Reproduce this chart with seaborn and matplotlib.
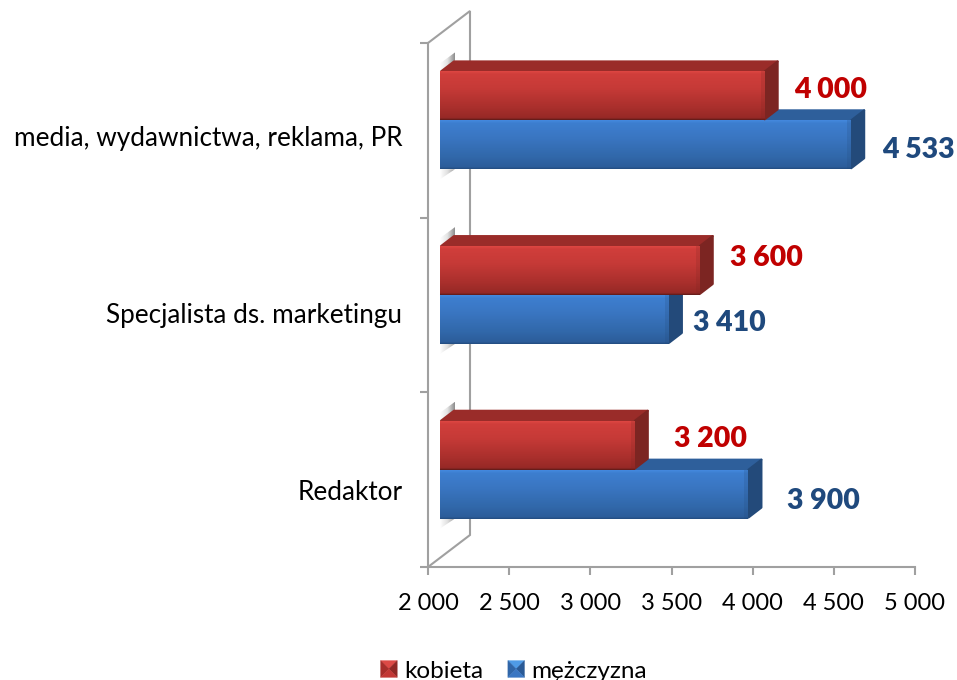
import numpy as np
import pandas as pd
import matplotlib
matplotlib.use('Agg')
import matplotlib.pyplot as plt
import seaborn as sns
from matplotlib.colors import LinearSegmentedColormap
from matplotlib.legend_handler import HandlerBase
from matplotlib.patches import Patch, Polygon
from matplotlib.transforms import Affine2D, IdentityTransform

categories = ['media, wydawnictwa, reklama, PR', 'Specjalista ds. marketingu', 'Redaktor']
kobieta = [4000, 3600, 3200]
mezczyzna = [4533, 3410, 3900]
series_names = ['kobieta', 'mężczyzna']
x_ticks = [2000, 2500, 3000, 3500, 4000, 4500, 5000]
x_labels = ['2 000', '2 500', '3 000', '3 500', '4 000', '4 500', '5 000']

# layout, in pixels
DX, DY = 12, 10        # front face offset from the axes plane
BX, BY = 14, 11        # bar depth
WX, WY = 42, 32        # wall depth
label_shift = {'kobieta': [(66, 6), (67, 13), (76, 6)],
               'mężczyzna': [(67, -5), (60, -4), (75, -7)]}
cat_label_shift = [-6, -8, -10]

colors = {
    'kobieta': dict(grad=[(0, '#de4642'), (0.06, '#d03e3b'), (0.35, '#c63a37'), (0.75, '#a92f2c'),
                          (0.96, '#962926'), (1, '#5e1a18')],
                    flat=['#dc4a46', '#a82e2b', '#8f2825', '#c23835'],
                    top='#9a2c29', side='#7c2522', text='#c00000'),
    'mężczyzna': dict(grad=[(0, '#4489de'), (0.06, '#3d7ecf'), (0.35, '#3a76c2'), (0.75, '#3168aa'),
                            (0.96, '#2c5d9a'), (1, '#234d80')],
                      flat=['#4f9be6', '#3066a8', '#2a5a96', '#3a76c2'],
                      top='#2e5f9b', side='#234a7a', text='#1f497d'),
}
GREY = '#a0a0a0'

df = pd.DataFrame({'stanowisko': categories * 2,
                   'plec': [series_names[0]] * 3 + [series_names[1]] * 3,
                   'placa': kobieta + mezczyzna})

sns.set_theme(style='white')
plt.rcParams['font.family'] = ['Lato', 'DejaVu Sans']

fig = plt.figure(figsize=(9.57, 6.8), dpi=100)
ax = fig.add_axes([428 / 957, (680 - 567) / 680, 487 / 957, 524 / 680])
sns.barplot(data=df, y='stanowisko', x='placa', hue='plec', order=categories,
            hue_order=series_names, width=0.56, gap=0, dodge=True, legend=False,
            errorbar=None, ax=ax)
ax.set_xlim(2000, 5000)
ax.set_ylim(2.5, -0.5)
ax.set_autoscale_on(False)
ax.set_xlabel('')
ax.set_ylabel('')

for s in ['top', 'right']:
    ax.spines[s].set_visible(False)
for s in ['left', 'bottom']:
    ax.spines[s].set_color(GREY)
    ax.spines[s].set_linewidth(1.5)

ax.set_xticks(x_ticks, x_labels)
ax.tick_params(axis='x', length=6, width=1.5, color=GREY, bottom=True, pad=13,
               labelsize=17, labelcolor='black')
ax.set_yticks([-0.5, 0.5, 1.5, 2.5], ['', '', '', ''])
ax.tick_params(axis='y', which='major', length=6, width=1.5, color=GREY, left=True)
ax.set_yticks([0, 1, 2], categories, minor=True)
ax.tick_params(axis='y', which='minor', length=0, pad=18.5, labelsize=18.8, labelcolor='black')
for t, dy in zip(ax.get_yticklabels(minor=True), cat_label_shift):
    t.set_transform(t.get_transform() + Affine2D().translate(0, dy))

# back wall
x0, y0 = ax.transData.transform((2000, 2.5))
x1, y1 = ax.transData.transform((2000, -0.5))
ax.add_patch(Polygon([(x0, y1), (x0 + WX, y1 + WY), (x0 + WX, y0 + WY), (x0, y0)],
                     closed=False, fill=False, edgecolor=GREY, lw=1.5,
                     transform=IdentityTransform(), clip_on=False, zorder=0.5))


def gradient(cols, extent, z, clip, vertical=True):
    cmap = LinearSegmentedColormap.from_list('g', cols)
    ramp = np.linspace(0, 1, 128)
    arr = ramp.reshape(-1, 1) if vertical else ramp.reshape(1, -1)
    im = ax.imshow(arr, cmap=cmap, aspect='auto', extent=extent, origin='upper',
                   transform=IdentityTransform(), zorder=z)
    im.set_clip_path(clip)
    return im


def poly(pts, color, z):
    p = Polygon(pts, closed=True, facecolor=color, edgecolor=color, lw=1.5, joinstyle='round',
                transform=IdentityTransform(), clip_on=False, zorder=z)
    ax.add_patch(p)
    return p


# bars are drawn lower one first so the red front covers the blue top
z = 2.0
for name, container, values in [(series_names[1], ax.containers[1], mezczyzna),
                                (series_names[0], ax.containers[0], kobieta)]:
    c = colors[name]
    for k, bar in enumerate(container):
        value = values[k]
        ya, yb = bar.get_y(), bar.get_y() + bar.get_height()
        left, y_low = ax.transData.transform((2000, yb)) + (DX, DY)
        right, y_high = ax.transData.transform((value, ya)) + (DX, DY)

        bar.set_visible(False)
        poly([(left + 1, y_high), (left + BX, y_high + BY - 1), (right + BX - 1, y_high + BY - 1),
              (right, y_high)], c['top'], z)
        poly([(right, y_low + 1), (right + BX - 1, y_low + BY), (right + BX - 1, y_high + BY - 1),
              (right, y_high)], c['side'], z + 0.01)
        front = Polygon([(left, y_low), (left, y_high), (right, y_high), (right, y_low)],
                        transform=IdentityTransform(), facecolor='none', edgecolor='none')
        ax.add_patch(front)
        gradient(c['grad'], (left, right, y_low, y_high), z + 0.02, front)

        # soft shading where the bar meets the side
        bev = Polygon([(right - 4, y_low), (right - 4, y_high), (right, y_high), (right, y_low)],
                      transform=IdentityTransform(), facecolor=c['side'], alpha=0.2,
                      edgecolor='none', zorder=z + 0.03, clip_on=False)
        ax.add_patch(bev)
        z += 0.1

        sx, sy = label_shift[name][k]
        ax.annotate(f'{value:,}'.replace(',', ' '), xy=(value, (ya + yb) / 2),
                    xytext=(sx + DX, sy + DY), textcoords='offset pixels', ha='center', va='center',
                    fontsize=20.5, fontweight='heavy', color=c['text'], zorder=6, annotation_clip=False)

# shadows behind the bar ends on the wall
for k in range(len(categories)):
    top_bar, low_bar = ax.containers[0][k], ax.containers[1][k]
    left, y_top = ax.transData.transform((2000, top_bar.get_y())) + (DX, DY)
    _, y_bot = ax.transData.transform((2000, low_bar.get_y() + low_bar.get_height())) + (DX, DY)
    clip_a = Polygon([(left, y_top), (left, y_top + 8), (left + BX + 1, y_top + 19), (left + BX + 1, y_top + BY)],
                     transform=IdentityTransform(), facecolor='none', edgecolor='none')
    ax.add_patch(clip_a)
    gradient(['#ffffff', '#e4e4e4', '#8c8c8c'], (left, left + BX + 1, y_top, y_top + 19), 1.2, clip_a,
             vertical=False)
    clip_b = Polygon([(left, y_bot), (left, y_bot - 10), (left + BX + 1, y_bot)],
                     transform=IdentityTransform(), facecolor='none', edgecolor='none')
    ax.add_patch(clip_b)
    gradient(['#ffffff', '#e0e0e0', '#a0a0a0'], (left, left + BX + 1, y_bot - 10, y_bot), 1.2, clip_b,
             vertical=False)


class BevelHandler(HandlerBase):
    def create_artists(self, legend, orig, xd, yd, w, h, fontsize, trans):
        shade = colors[orig.get_label()]['flat']
        cx, cy = w / 2 - xd, h / 2 - yd
        l, r, b, t = -xd, w - xd, -yd, h - yd
        tris = [[(l, t), (r, t), (cx, cy)], [(l, t), (l, b), (cx, cy)],
                [(r, t), (r, b), (cx, cy)], [(l, b), (r, b), (cx, cy)]]
        return [Polygon(pts, closed=True, facecolor=col, edgecolor=col, lw=0.3, transform=trans)
                for pts, col in zip(tris, shade)]


handles = [Patch(label=n) for n in series_names]
fig.legend(handles=handles, labels=series_names, handler_map={Patch: BevelHandler()},
           loc='center', bbox_to_anchor=(514 / 957, (680 - 671) / 680), ncol=2, frameon=False,
           fontsize=17.5, handlelength=0.68, handleheight=0.68, handletextpad=0.3,
           columnspacing=1.0, borderpad=0, labelcolor='black')

plt.savefig('out.png', dpi=100)
